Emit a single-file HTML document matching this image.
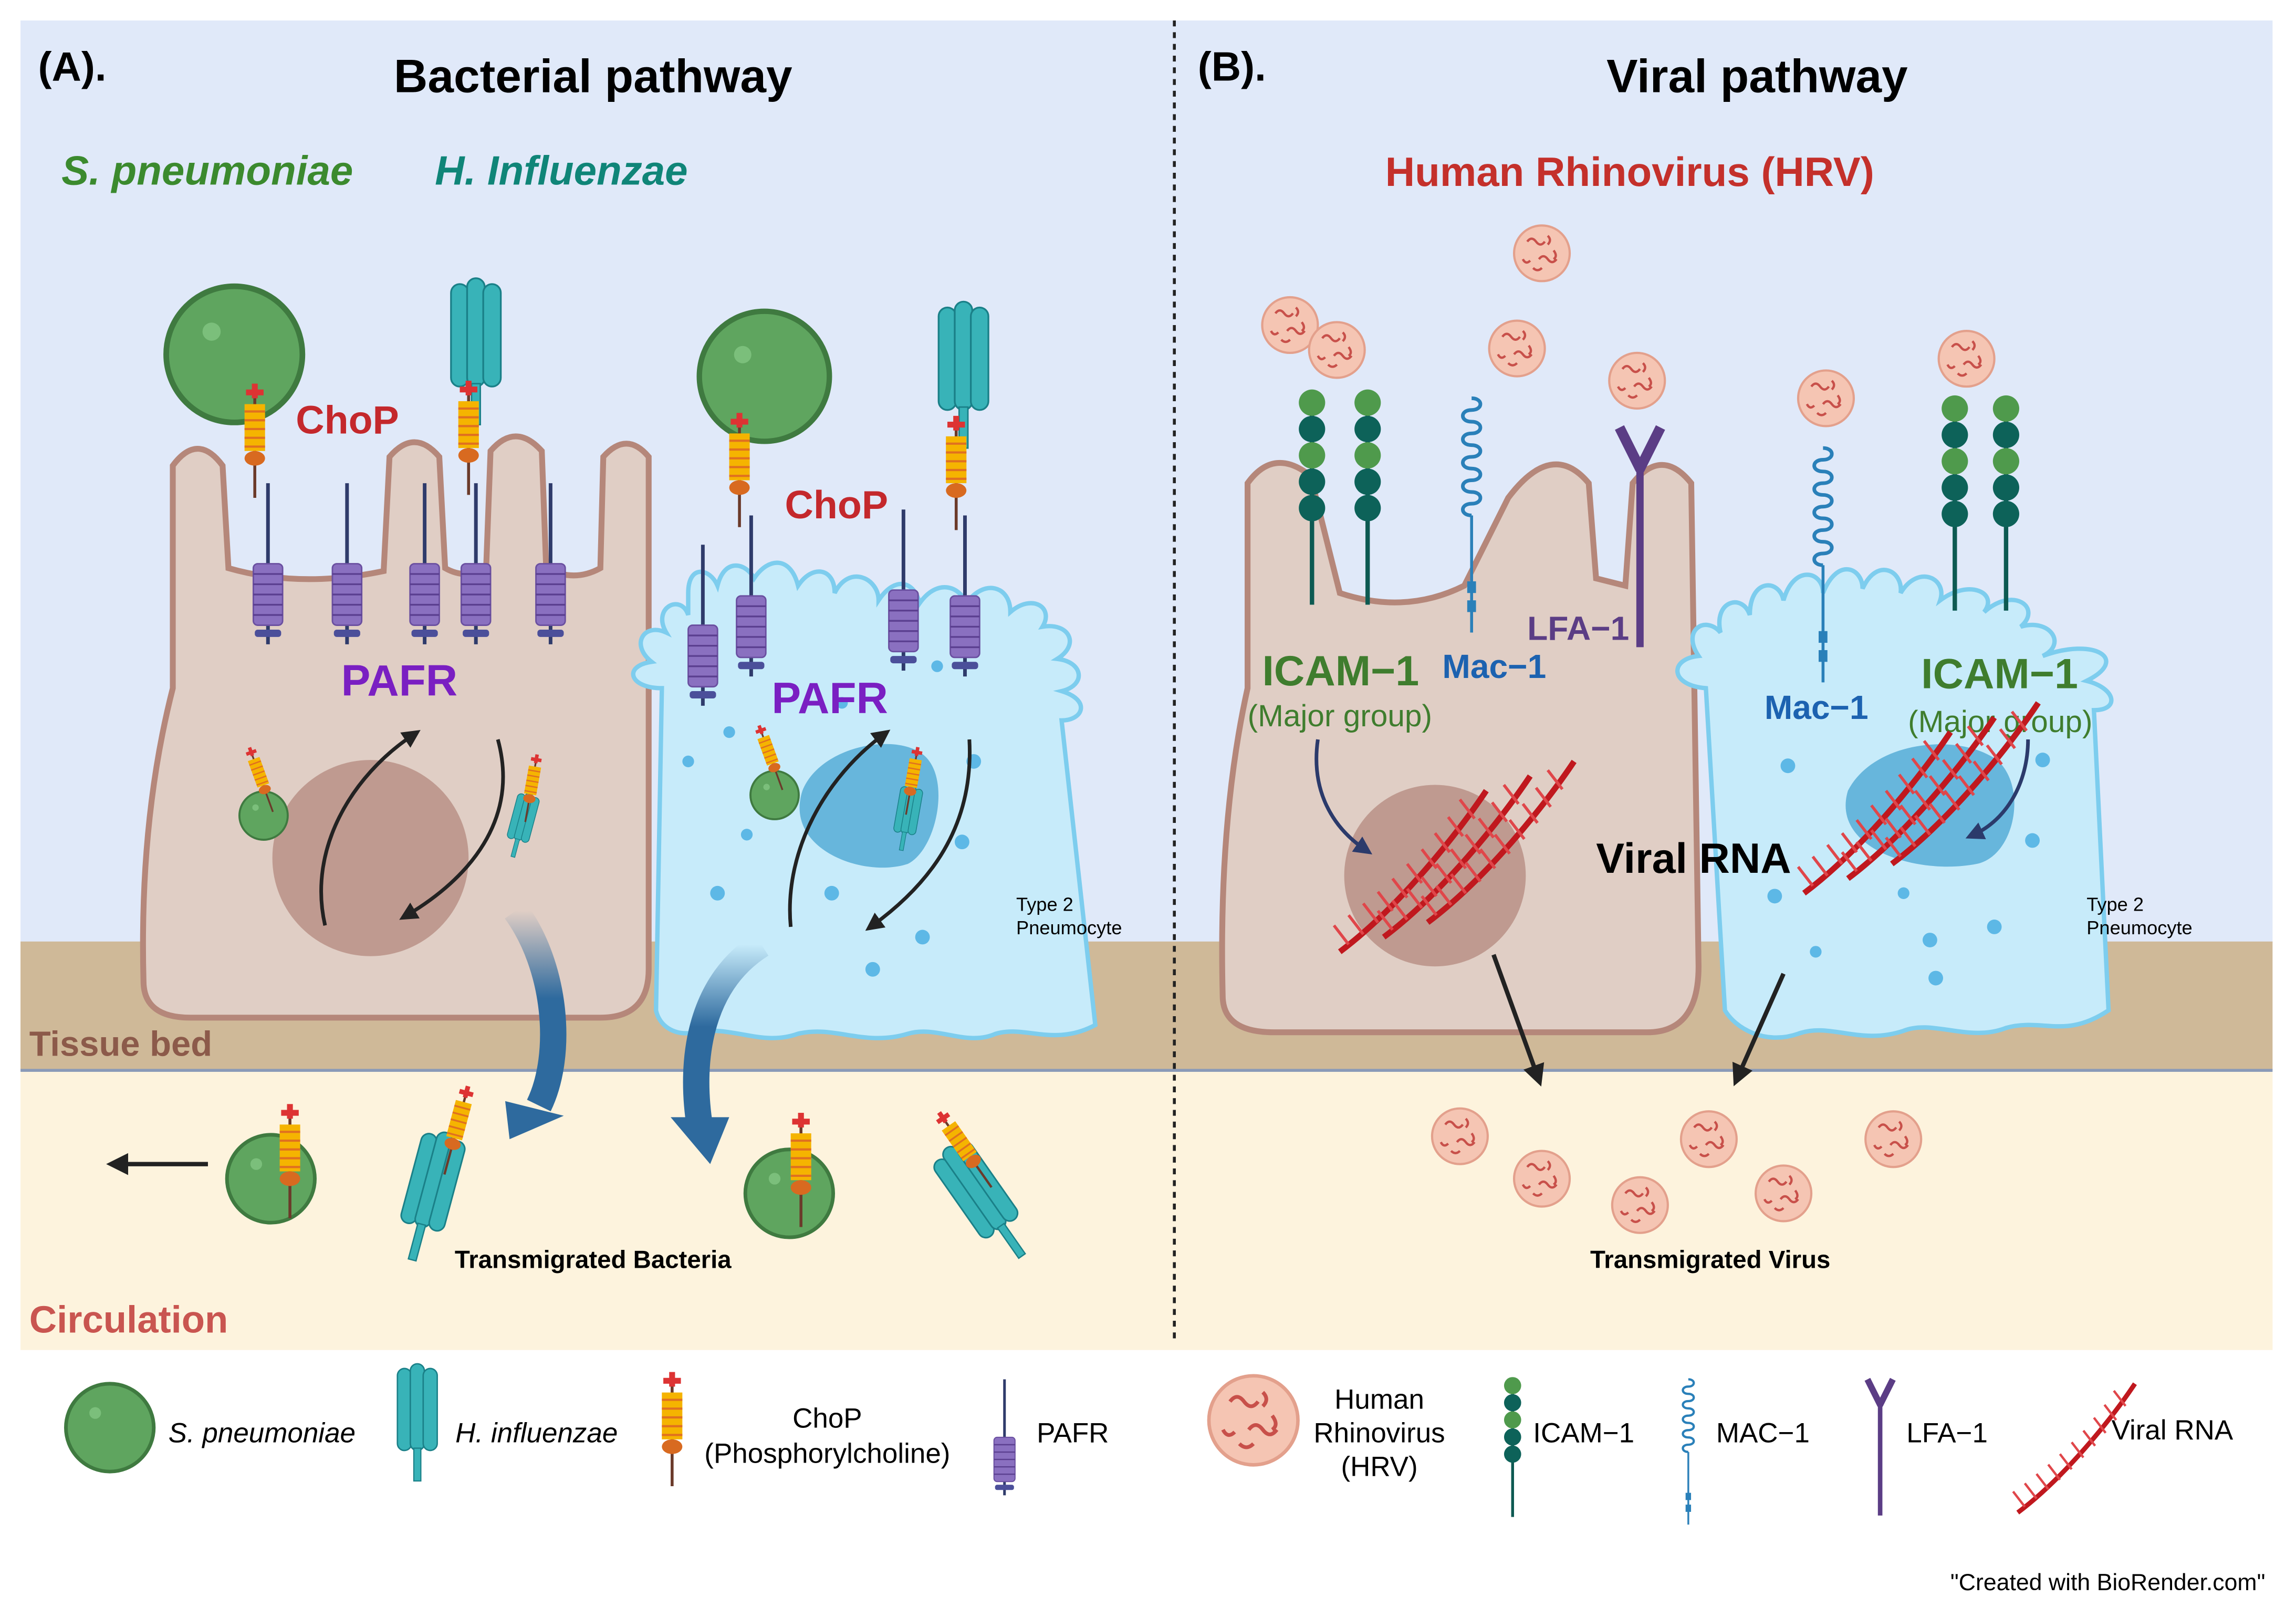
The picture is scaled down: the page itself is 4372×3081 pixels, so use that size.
<!DOCTYPE html>
<html><head><meta charset="utf-8"><style>
html,body{margin:0;padding:0;background:#fff}
svg{display:block}
text{font-family:"Liberation Sans",sans-serif}
</style></head><body>
<svg width="4372" height="3081" viewBox="0 0 1568 1105" xmlns="http://www.w3.org/2000/svg">
<defs>
<linearGradient id="ba1" x1="0" y1="0" x2="0" y2="1"><stop offset="0" stop-color="#2e6a9e" stop-opacity="0"/><stop offset="0.45" stop-color="#2e6a9e"/></linearGradient>
<marker id="ah" viewBox="0 0 10 10" refX="5" refY="5" markerWidth="5" markerHeight="5" orient="auto"><path d="M0,0 L10,5 L0,10 Z" fill="#222"/></marker>
<marker id="ahn" viewBox="0 0 10 10" refX="5" refY="5" markerWidth="5" markerHeight="5" orient="auto"><path d="M0,0 L10,5 L0,10 Z" fill="#2b3a6b"/></marker>
<g id="virus"><circle r="19" fill="#f5c5b3" stroke="#e3a08c" stroke-width="1.5"/>
<g fill="none" stroke="#c8504a" stroke-width="1.6"><path d="M-10,-8 q3,-4 6,0 t6,0"/><path d="M-2,4 q3,-4 6,0 t6,0"/><path d="M-13,4 q2,4 5,1"/><path d="M4,-12 q3,3 0,6"/><path d="M-6,10 q3,3 6,0"/><path d="M8,-2 q3,4 0,6"/></g></g>
<g id="sp"><circle r="30" fill="#5fa55f" stroke="#3f7a40" stroke-width="2.5"/><circle cx="-10" cy="-10" r="4" fill="#7bbf7b"/></g>
<g id="hi"><rect x="-17" y="-38" width="12" height="70" rx="6" fill="#38b3b8" stroke="#1a8088" stroke-width="1.2"/><rect x="-6" y="-42" width="12" height="74" rx="6" fill="#38b3b8" stroke="#1a8088" stroke-width="1.2"/><rect x="5" y="-38" width="12" height="70" rx="6" fill="#38b3b8" stroke="#1a8088" stroke-width="1.2"/><rect x="-3" y="30" width="6" height="28" fill="#38b3b8" stroke="#1a8088"/></g>
<g id="chop"><line x1="0" y1="-5" x2="0" y2="70" stroke="#6b3a2a" stroke-width="2"/><rect x="-6" y="-4" width="12" height="4" fill="#d33"/><rect x="-2" y="-8" width="4" height="10" fill="#d33"/>
<rect x="-7" y="6" width="14" height="32" fill="#f5b400"/><g stroke="#e07020" stroke-width="1.5"><line x1="-7" y1="11" x2="7" y2="11"/><line x1="-7" y1="17" x2="7" y2="17"/><line x1="-7" y1="23" x2="7" y2="23"/><line x1="-7" y1="29" x2="7" y2="29"/><line x1="-7" y1="35" x2="7" y2="35"/></g><ellipse cx="0" cy="43" rx="7" ry="5" fill="#d86a20"/></g>
<g id="pafr"><line x1="0" y1="0" x2="0" y2="110" stroke="#2f3b6b" stroke-width="2.5"/><rect x="-10" y="55" width="20" height="42" rx="3" fill="#8a70c0" stroke="#6a4fa0"/><g stroke="#5b3f90" stroke-width="1.2"><line x1="-10" y1="62" x2="10" y2="62"/><line x1="-10" y1="69" x2="10" y2="69"/><line x1="-10" y1="76" x2="10" y2="76"/><line x1="-10" y1="83" x2="10" y2="83"/><line x1="-10" y1="90" x2="10" y2="90"/></g><rect x="-9" y="100" width="18" height="5" rx="2" fill="#4b4f9a"/></g>
<g id="icam"><line x1="0" y1="0" x2="0" y2="140" stroke="#0d5a52" stroke-width="3"/><circle cy="2" r="9" fill="#4f9a4c"/><circle cy="20" r="9" fill="#0d6259"/><circle cy="38" r="9" fill="#4f9a4c"/><circle cy="56" r="9" fill="#0d6259"/><circle cy="74" r="9" fill="#0d6259"/></g>
<g id="mac"><path d="M0,0 c8,0 8,8 0,8 c-8,0 -8,8 0,8 c8,0 8,8 0,8 c-8,0 -8,8 0,8 c8,0 8,8 0,8 c-8,0 -8,8 0,8 c8,0 8,8 0,8 c-8,0 -8,8 0,8 c8,0 8,8 0,8 c-8,0 -8,8 0,8" fill="none" stroke="#2a80b9" stroke-width="2.5"/><line x1="0" y1="80" x2="0" y2="160" stroke="#2a80b9" stroke-width="2"/><rect x="-3" y="125" width="6" height="8" fill="#2a80b9"/><rect x="-3" y="138" width="6" height="8" fill="#2a80b9"/></g>
<g id="lfa"><path d="M-14,0 L0,28 L14,0" fill="none" stroke="#5b3d85" stroke-width="7" stroke-linejoin="round"/><line x1="0" y1="28" x2="0" y2="150" stroke="#5b3d85" stroke-width="5"/></g>
<g id="rna"><path d="M0,110 C40,80 80,30 100,0" fill="none" stroke="#c0181e" stroke-width="4"/><g stroke="#e0464a" stroke-width="2"><line x1="6" y1="105" x2="-4" y2="92"/><line x1="16" y1="98" x2="6" y2="85"/><line x1="26" y1="90" x2="16" y2="77"/><line x1="36" y1="82" x2="26" y2="69"/><line x1="46" y1="73" x2="36" y2="60"/><line x1="56" y1="63" x2="46" y2="50"/><line x1="66" y1="53" x2="56" y2="40"/><line x1="75" y1="42" x2="65" y2="29"/><line x1="84" y1="31" x2="74" y2="18"/><line x1="92" y1="19" x2="82" y2="6"/></g></g>
</defs>

<!-- backgrounds -->
<rect x="14" y="14" width="1538" height="630" fill="#e0e9f9"/>
<rect x="14" y="643" width="1538" height="88" fill="#cfb998"/>
<rect x="14" y="731" width="1538" height="191" fill="#fdf3dd"/>
<line x1="14" y1="731" x2="1552" y2="731" stroke="#8a9ab8" stroke-width="2"/>
<line x1="802" y1="14" x2="802" y2="918" stroke="#222" stroke-width="2" stroke-dasharray="4,4"/>

<!-- titles -->
<text x="26" y="55" font-size="28" font-weight="bold">(A).</text>
<text x="405" y="63" font-size="32" font-weight="bold" text-anchor="middle">Bacterial pathway</text>
<text x="818" y="55" font-size="28" font-weight="bold">(B).</text>
<text x="1200" y="63" font-size="32" font-weight="bold" text-anchor="middle">Viral pathway</text>
<text x="42" y="126" font-size="28" font-weight="bold" font-style="italic" fill="#3b8a2e">S. pneumoniae</text>
<text x="297" y="126" font-size="28" font-weight="bold" font-style="italic" fill="#0f8578">H. Influenzae</text>
<text x="1113" y="127" font-size="28" font-weight="bold" fill="#c4302b" text-anchor="middle">Human Rhinovirus (HRV)</text>

<!-- LEFT tan cell -->
<path d="M98,670 Q95,560 118,470 L118,318 Q135,295 152,318 L156,388 Q205,402 262,390 L266,312 Q283,292 300,312 L304,388 Q318,396 332,388 L335,308 Q352,288 370,308 L373,388 Q392,398 410,388 L412,312 Q428,294 443,312 L443,662 Q443,695 410,695 L130,695 Q98,695 98,670 Z" fill="#e0cec5" stroke="#b5877a" stroke-width="4"/>
<circle cx="253" cy="586" r="67" fill="#b99186" opacity="0.85"/>
<!-- LEFT blue cell -->
<path d="M452,470 C430,470 425,455 445,452 C430,440 440,425 455,432 C445,415 465,405 470,420 L470,405 C470,385 485,388 490,400 C495,380 510,385 515,395 C525,380 540,380 545,400 C555,385 570,388 570,405 C580,385 600,395 600,410 C612,392 625,398 628,412 C640,395 655,400 660,412 C672,395 690,400 690,418 C705,405 720,415 712,428 C730,425 738,440 722,450 C740,452 742,468 725,472 C745,478 740,492 725,492 L748,700 C720,715 700,700 680,706 C660,715 640,700 620,706 C590,715 570,700 545,706 C520,715 500,700 475,705 C460,708 450,700 448,690 Z" fill="#c7ebfa" stroke="#7dcdee" stroke-width="3"/>
<path d="M548,540 C560,510 610,500 630,515 C650,530 640,580 620,590 C590,600 535,580 548,540 Z" fill="#67b6dc"/>
<g fill="#5db8e6"><circle cx="490" cy="610" r="5"/><circle cx="568" cy="610" r="5"/><circle cx="596" cy="662" r="5"/><circle cx="640" cy="455" r="4"/><circle cx="665" cy="520" r="5"/><circle cx="657" cy="575" r="5"/><circle cx="498" cy="500" r="4"/><circle cx="510" cy="570" r="4"/><circle cx="630" cy="640" r="5"/><circle cx="575" cy="480" r="4"/><circle cx="470" cy="520" r="4"/></g>
<text x="694" y="622" font-size="13">Type 2</text><text x="694" y="638" font-size="13">Pneumocyte</text>

<!-- receptors left -->
<use href="#pafr" x="183" y="330"/><use href="#pafr" x="237" y="330"/><use href="#pafr" x="290" y="330"/><use href="#pafr" x="325" y="330"/><use href="#pafr" x="376" y="330"/>
<use href="#pafr" x="480" y="372"/><use href="#pafr" x="513" y="352"/><use href="#pafr" x="617" y="348"/><use href="#pafr" x="659" y="352"/>
<use href="#sp" x="160" y="242" transform="translate(160,242) scale(1.55) translate(-160,-242)"/>
<use href="#chop" x="174" y="270"/>
<use href="#hi" x="325" y="232"/>
<use href="#chop" x="320" y="268"/>
<use href="#sp" transform="translate(522,257) scale(1.48)"/>
<use href="#chop" x="505" y="290"/>
<use href="#hi" x="658" y="248"/>
<use href="#chop" x="653" y="292"/>
<text x="202" y="296" font-size="27" font-weight="bold" fill="#c4282c">ChoP</text>
<text x="536" y="354" font-size="27" font-weight="bold" fill="#c4282c">ChoP</text>
<text x="233" y="475" font-size="30" font-weight="bold" fill="#7a1fc2">PAFR</text>
<text x="527" y="487" font-size="30" font-weight="bold" fill="#7a1fc2">PAFR</text>
<!-- internalized -->
<use href="#sp" transform="translate(180,557) scale(0.55)"/><use href="#chop" transform="translate(172,515) rotate(-20) scale(0.6)"/>
<use href="#hi" transform="translate(357,560) rotate(15) scale(0.45)"/><use href="#chop" transform="translate(366,520) rotate(10) scale(0.6)"/>
<use href="#sp" transform="translate(529,543) scale(0.55)"/><use href="#chop" transform="translate(520,500) rotate(-20) scale(0.6)"/>
<use href="#hi" transform="translate(620,555) rotate(10) scale(0.45)"/><use href="#chop" transform="translate(626,515) rotate(10) scale(0.6)"/>
<!-- black arrows left -->
<g fill="none" stroke="#222" stroke-width="2.5">
<path d="M222,632 C210,580 240,530 282,502" marker-end="url(#ah)"/>
<path d="M340,505 C355,560 320,600 278,625" marker-end="url(#ah)"/>
<path d="M540,633 C535,580 565,530 603,502" marker-end="url(#ah)"/>
<path d="M662,505 C665,560 640,600 596,632" marker-end="url(#ah)"/>
</g>
<!-- big blue arrows -->
<path d="M352,622 C380,660 385,720 368,755" fill="none" stroke="url(#ba1)" stroke-width="18"/>
<polygon points="345,752 385,762 348,778" fill="#2e6a9e"/>
<path d="M520,645 C480,670 470,720 478,770" fill="none" stroke="url(#ba1)" stroke-width="18"/>
<polygon points="458,763 498,763 485,795" fill="#2e6a9e"/>
<!-- circulation bacteria -->
<line x1="142" y1="795" x2="80" y2="795" stroke="#222" stroke-width="3" marker-end="url(#ah)"/>
<use href="#sp" x="185" y="805"/><use href="#chop" x="198" y="762"/>
<use href="#hi" transform="translate(295,810) rotate(15) scale(0.9)"/><use href="#chop" transform="translate(318,748) rotate(15) scale(0.8)"/>
<use href="#sp" x="539" y="815"/><use href="#chop" x="547" y="768"/>
<use href="#hi" transform="translate(668,815) rotate(-35) scale(0.9)"/><use href="#chop" transform="translate(645,765) rotate(-35) scale(0.8)"/>
<text x="405" y="866" font-size="17" font-weight="bold" text-anchor="middle">Transmigrated Bacteria</text>
<text x="20" y="721" font-size="24" font-weight="bold" fill="#8c5a4a">Tissue bed</text>
<text x="20" y="910" font-size="26" font-weight="bold" fill="#c95550">Circulation</text>

<!-- RIGHT tan cell -->
<path d="M835,680 Q832,560 852,470 L852,330 Q870,305 895,325 L915,405 Q960,420 1000,400 L1030,340 Q1060,300 1085,330 L1090,395 L1110,400 L1115,330 Q1135,305 1155,330 L1160,660 Q1160,705 1125,705 L870,705 Q835,705 835,680 Z" fill="#e0cec5" stroke="#b5877a" stroke-width="4"/>
<circle cx="980" cy="598" r="62" fill="#b99186" opacity="0.85"/>
<!-- RIGHT blue cell -->
<path d="M1165,470 C1140,468 1140,450 1160,448 C1148,430 1165,420 1175,432 C1170,410 1190,405 1195,420 C1195,395 1215,395 1218,410 C1225,385 1245,390 1245,405 C1255,380 1272,388 1272,402 C1282,380 1300,390 1298,405 C1310,385 1330,395 1325,410 C1345,395 1365,405 1355,418 C1375,400 1395,415 1380,428 C1400,422 1412,440 1395,448 C1430,435 1455,450 1425,465 C1445,470 1448,485 1430,485 L1440,690 C1410,710 1395,695 1370,702 C1345,712 1320,696 1300,704 C1270,714 1250,698 1228,706 C1205,714 1185,702 1178,690 Z" fill="#c7ebfa" stroke="#7dcdee" stroke-width="3"/>
<path d="M1262,540 C1280,505 1340,500 1365,520 C1385,540 1375,585 1350,590 C1310,598 1250,580 1262,540 Z" fill="#67b6dc"/>
<g fill="#5db8e6"><circle cx="1221" cy="523" r="5"/><circle cx="1212" cy="612" r="5"/><circle cx="1318" cy="642" r="5"/><circle cx="1322" cy="668" r="5"/><circle cx="1362" cy="633" r="5"/><circle cx="1395" cy="519" r="5"/><circle cx="1300" cy="610" r="4"/><circle cx="1388" cy="574" r="5"/><circle cx="1240" cy="650" r="4"/></g>
<text x="1425" y="622" font-size="13">Type 2</text><text x="1425" y="638" font-size="13">Pneumocyte</text>

<use href="#icam" x="896" y="273"/><use href="#icam" x="934" y="273"/>
<use href="#icam" x="1335" y="277"/><use href="#icam" x="1370" y="277"/>
<use href="#mac" x="1005" y="272"/><use href="#mac" x="1245" y="306"/>
<use href="#lfa" x="1120" y="292"/>
<use href="#virus" x="881" y="222"/><use href="#virus" x="913" y="239"/><use href="#virus" x="1053" y="173"/><use href="#virus" x="1036" y="238"/><use href="#virus" x="1118" y="260"/><use href="#virus" x="1247" y="272"/><use href="#virus" x="1343" y="245"/>
<text x="862" y="468" font-size="29" font-weight="bold" fill="#3f7d2e">ICAM−1</text>
<text x="852" y="496" font-size="21" fill="#3f7d2e">(Major group)</text>
<text x="985" y="463" font-size="23" font-weight="bold" fill="#1c62b0">Mac−1</text>
<text x="1043" y="437" font-size="23" font-weight="bold" fill="#5b3d85">LFA−1</text>
<text x="1205" y="491" font-size="23" font-weight="bold" fill="#1c62b0">Mac−1</text>
<text x="1312" y="470" font-size="29" font-weight="bold" fill="#3f7d2e">ICAM−1</text>
<text x="1303" y="500" font-size="21" fill="#3f7d2e">(Major group)</text>
<use href="#rna" x="915" y="540"/><use href="#rna" x="945" y="530"/><use href="#rna" x="975" y="520"/>
<use href="#rna" x="1232" y="500"/><use href="#rna" x="1262" y="490"/><use href="#rna" x="1292" y="480"/>
<text x="1090" y="596" font-size="29" font-weight="bold">Viral RNA</text>
<g fill="none" stroke="#2b3a6b" stroke-width="2.5">
<path d="M900,505 C895,540 910,565 932,580" marker-end="url(#ahn)"/>
<path d="M1385,505 C1385,535 1370,560 1348,570" marker-end="url(#ahn)"/>
</g>
<g stroke="#222" stroke-width="3"><line x1="1020" y1="652" x2="1050" y2="735" marker-end="url(#ah)"/><line x1="1218" y1="665" x2="1187" y2="735" marker-end="url(#ah)"/></g>
<use href="#virus" x="997" y="776"/><use href="#virus" x="1053" y="805"/><use href="#virus" x="1120" y="823"/><use href="#virus" x="1167" y="778"/><use href="#virus" x="1218" y="815"/><use href="#virus" x="1293" y="778"/>
<text x="1168" y="866" font-size="17" font-weight="bold" text-anchor="middle">Transmigrated Virus</text>

<!-- legend -->
<use href="#sp" x="75" y="975"/>
<text x="115" y="985" font-size="19" font-style="italic">S. pneumoniae</text>
<use href="#hi" transform="translate(285,965) scale(0.8)"/>
<text x="311" y="985" font-size="19" font-style="italic">H. influenzae</text>
<use href="#chop" x="459" y="945"/>
<text x="565" y="975" font-size="19" text-anchor="middle">ChoP</text>
<text x="565" y="999" font-size="19" text-anchor="middle">(Phosphorylcholine)</text>
<use href="#pafr" transform="translate(686,942) scale(0.72)"/>
<text x="708" y="985" font-size="19">PAFR</text>
<use href="#virus" transform="translate(856,970) scale(1.6)"/>
<text x="942" y="962" font-size="19" text-anchor="middle">Human</text>
<text x="942" y="985" font-size="19" text-anchor="middle">Rhinovirus</text>
<text x="942" y="1008" font-size="19" text-anchor="middle">(HRV)</text>
<use href="#icam" transform="translate(1033,945) scale(0.65)"/>
<text x="1047" y="985" font-size="19">ICAM−1</text>
<use href="#mac" transform="translate(1153,942) scale(0.62)"/>
<text x="1172" y="985" font-size="19">MAC−1</text>
<use href="#lfa" transform="translate(1284,942) scale(0.62)"/>
<text x="1302" y="985" font-size="19">LFA−1</text>
<use href="#rna" transform="translate(1378,945) scale(0.8)"/>
<text x="1442" y="983" font-size="19">Viral RNA</text>
<text x="1547" y="1086" font-size="16" text-anchor="end">"Created with BioRender.com"</text>
</svg>
</body></html>
